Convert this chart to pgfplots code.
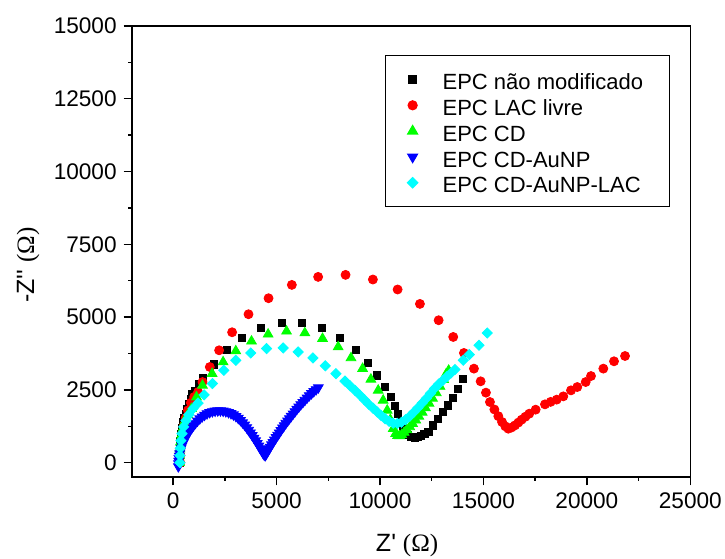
\documentclass[border=0pt]{standalone}
\usepackage{fontspec}
\newfontfamily\arial{Liberation Sans}
\newfontfamily\tnr{Liberation Serif}
\usepackage{pgfplots}
\pgfplotsset{compat=1.18}
\definecolor{cRed}{RGB}{255,0,0}
\definecolor{cGreen}{RGB}{0,255,0}
\definecolor{cBlue}{RGB}{0,0,255}
\definecolor{cCyan}{RGB}{0,255,255}
\begin{document}
\begin{tikzpicture}
\begin{axis}[
  scale only axis, width=279.3pt, height=225.65pt,
  xmin=-2000, xmax=25000, ymin=-500, ymax=15000,
  xtick={0,5000,...,25000}, ytick={0,2500,...,15000},
  minor x tick num=1, minor y tick num=1,
  tick align=outside, xtick pos=left, ytick pos=left,
  major tick length=4pt, minor tick length=1.8pt,
  axis line style={line width=0.8pt},
  every tick/.style={line width=0.7pt, black},
  tick label style={font=\arial\fontsize{11.3}{13}\selectfont},
  /pgf/number format/assume math mode=true,
  /pgf/number format/1000 sep={},
  scaled ticks=false,
  xlabel={Z' {\tnr(Ω)}}, ylabel={-Z'' {\tnr(Ω)}},
  label style={font=\arial\fontsize{12.5}{14}\selectfont},
  xlabel style={at={(axis description cs:0.493,-0.152)}, anchor=center},
  ylabel style={at={(axis description cs:-0.1856,0.47)}, anchor=center},
  legend cell align=left,
  legend image code/.code={\path[draw=none,fill=none] (0pt,0pt) -- (15.5pt,0pt);\draw[#1,only marks] plot coordinates {(4pt,0pt)};},
  legend style={at={(0.4535,0.9357)}, anchor=north west, draw=black, line width=0.6pt,
    font=\arial\fontsize{11}{13}\selectfont, inner xsep=9.5pt, inner ysep=5.5pt,
    nodes={text height=10.3pt, text depth=0.2pt, inner ysep=1.2pt, inner xsep=3.5pt}},
]
\addplot[only marks, mark=square*, mark size=1.8pt, color=black] coordinates {
(320,0)(325,250)(335,500)(355,750)(390,1000)(440,1200)(484,1396)(550,1550)(614,1685)(690,1860)(774,2029)(850,2190)(938,2349)(1050,2462)(1230,2700)(1456,2923)(1968,3380)(2582,3886)(3337,4299)(4227,4643)(5242,4815)(6239,4815)(7206,4619)(8062,4299)(8821,3886)(9401,3439)(9866,3002)(10253,2600)(10514,2256)(10722,1946)(10880,1680)(11010,1440)(11120,1230)(11230,1060)(11360,950)(11520,890)(11680,870)(11840,890)(11990,930)(12150,990)(12337,1052)(12574,1283)(12816,1513)(13058,1740)(13300,1970)(13541,2235)(13783,2545)(14025,2889)
};
\addlegendentry{EPC não modificado}
\addplot[only marks, mark=*, mark size=2.25pt, color=cRed] coordinates {
(350,0)(355,250)(370,500)(400,760)(450,1020)(520,1280)(610,1540)(720,1800)(860,2060)(1020,2260)(1209,2428)(1422,2772)(1775,3288)(2225,3862)(2853,4481)(3646,5100)(4614,5650)(5740,6108)(7012,6383)(8337,6452)(9658,6293)(10852,5950)(11931,5455)(12835,4894)(13541,4320)(14058,3770)(14542,3232)(14866,2796)(15122,2407)(15316,2085)(15530,1830)(15720,1600)(15900,1400)(16060,1250)(16203,1169)(16360,1210)(16525,1283)(16690,1380)(16848,1479)(17030,1580)(17217,1685)(17525,1823)(17975,2005)(18250,2090)(18542,2167)(18861,2280)(19233,2486)(19537,2600)(19944,2772)(20200,2978)(20796,3232)(21313,3484)(21845,3666)
};
\addlegendentry{EPC LAC livre}
\addplot[only marks, mark=triangle*, mark size=2.8pt, color=cGreen] coordinates {
(310,0)(315,230)(330,470)(360,710)(410,950)(480,1190)(570,1420)(700,1640)(890,1857)(1131,2256)(1420,2658)(1886,3060)(2418,3460)(3032,3838)(3791,4172)(4594,4412)(5484,4515)(6369,4457)(7224,4264)(7979,3976)(8600,3600)(9160,3233)(9561,2865)(9914,2486)(10155,2143)(10349,1799)(10500,1480)(10640,1169)(10760,1000)(10850,930)(10950,920)(11050,960)(11170,1040)(11300,1130)(11440,1230)(11580,1340)(11730,1460)(11880,1590)(12040,1730)(12200,1880)(12370,2040)(12540,2210)(12720,2400)(12900,2620)(13080,2850)(13200,3050)(13320,3170)
};
\addlegendentry{EPC CD}
\addplot[only marks, mark=triangle*, mark options={rotate=180}, mark size=2.8pt, color=cBlue] coordinates {
(255,-130)(260,-30)(270,60)(283,150)(300,230)(322,315)(350,400)(385,490)(430,580)(480,670)(540,760)(600,850)(670,940)(740,1025)(820,1110)(900,1195)(990,1280)(1080,1360)(1180,1440)(1290,1515)(1400,1580)(1520,1640)(1640,1690)(1770,1730)(1900,1760)(2030,1780)(2160,1790)(2290,1790)(2420,1780)(2550,1760)(2680,1730)(2800,1695)(2920,1650)(3040,1595)(3150,1530)(3260,1460)(3360,1380)(3460,1300)(3560,1210)(3650,1120)(3740,1030)(3825,940)(3910,850)(3990,760)(4070,670)(4145,580)(4220,490)(4290,410)(4350,330)(4400,280)(4450,250)(4500,300)(4560,380)(4620,460)(4690,540)(4760,620)(4830,700)(4900,785)(4980,870)(5055,950)(5130,1030)(5210,1115)(5290,1200)(5370,1280)(5450,1360)(5535,1440)(5620,1520)(5710,1600)(5800,1680)(5890,1760)(5980,1840)(6075,1920)(6170,2000)(6270,2075)(6370,2150)(6475,2230)(6580,2310)(6690,2380)(6800,2450)(6910,2515)(7020,2580)
};
\addlegendentry{EPC CD-AuNP}
\addplot[only marks, mark=square*, mark options={rotate=45}, mark size=1.8pt, color=cCyan] coordinates {
(330,0)(335,250)(350,500)(380,760)(430,1000)(510,1230)(620,1450)(760,1650)(967,1857)(1209,2050)(1500,2330)(1900,2720)(2452,3174)(3032,3518)(3757,3770)(4517,3920)(5320,3942)(6045,3804)(6760,3600)(7360,3330)(7873,3060)(8306,2806)(8560,2640)(8800,2480)(9030,2320)(9250,2160)(9460,2010)(9670,1870)(9870,1740)(10060,1620)(10250,1510)(10440,1420)(10640,1360)(10840,1350)(11040,1390)(11240,1480)(11440,1600)(11640,1740)(11840,1890)(12040,2050)(12240,2210)(12440,2380)(12640,2550)(12840,2700)(13040,2830)(13240,2960)(13430,3080)(13622,3200)(14025,3518)(14316,3714)(14784,4034)(15185,4457)
};
\addlegendentry{EPC CD-AuNP-LAC}
\end{axis}
\path (current axis.south west) ++(-65.85pt,-40.85pt) coordinate (bl);
\path (current axis.north east) ++(17.35pt,13pt) coordinate (tr);
\pgfresetboundingbox
\path[use as bounding box] (bl) rectangle (tr);
\end{tikzpicture}
\end{document}
